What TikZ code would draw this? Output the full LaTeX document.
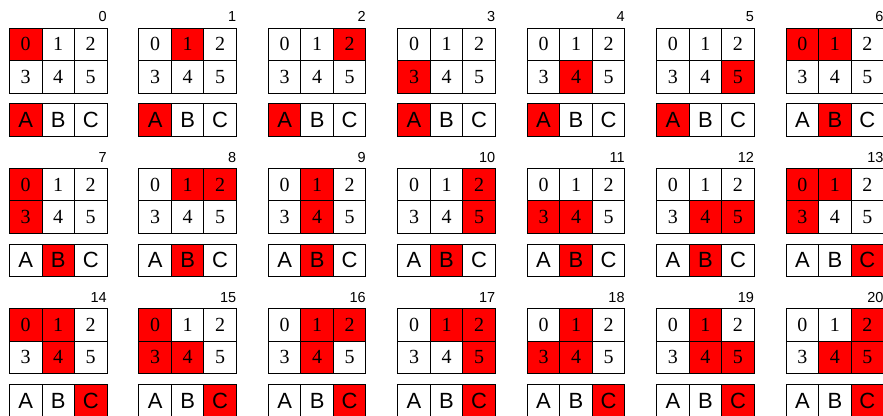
\documentclass[tikz,border=0pt]{standalone}
\usepackage{fontspec}
\setmainfont{Liberation Serif}
\setsansfont{Liberation Sans}
\usepackage{tikz}
\definecolor{hl}{RGB}{255,0,0}

\begin{document}
\begin{tikzpicture}[
        x=1pt, y=1pt,
        cell/.style={rectangle, draw=black, line width=0.9pt, inner sep=0pt, minimum width=32.5pt, minimum height=32.4pt, anchor=north west},
        digit/.style={cell, font=\fontsize{20}{20}\selectfont},
        letter/.style={cell, font=\sffamily\fontsize{22}{22}\selectfont},
        idx/.style={anchor=base east, inner sep=0pt, font=\sffamily\fontsize{14.5}{14.5}\selectfont}
    ]
        \useasboundingbox (0,0) rectangle (883,-415);

        % PANELS: number / marked cells of the 2x3 grid / marked letter
        \foreach \n/\mask/\sel in {
            0/{1,0,0,0,0,0}/0, 1/{0,1,0,0,0,0}/0, 2/{0,0,1,0,0,0}/0, 3/{0,0,0,1,0,0}/0,
            4/{0,0,0,0,1,0}/0, 5/{0,0,0,0,0,1}/0, 6/{1,1,0,0,0,0}/1, 7/{1,0,0,1,0,0}/1,
            8/{0,1,1,0,0,0}/1, 9/{0,1,0,0,1,0}/1, 10/{0,0,1,0,0,1}/1, 11/{0,0,0,1,1,0}/1,
            12/{0,0,0,0,1,1}/1, 13/{1,1,0,1,0,0}/2, 14/{1,1,0,0,1,0}/2, 15/{1,0,0,1,1,0}/2,
            16/{0,1,1,0,1,0}/2, 17/{0,1,1,0,0,1}/2, 18/{0,1,0,1,1,0}/2, 19/{0,1,0,0,1,1}/2,
            20/{0,0,1,0,1,1}/2}{
            \pgfmathtruncatemacro\col{mod(\n,7)}
            \pgfmathtruncatemacro\row{div(\n,7)}
            \pgfmathsetmacro\xo{9+129.45*\col}
            \pgfmathsetmacro\yo{-27.7-140.3*\row}

            % grid 0..5
            \foreach \j in {0,...,5}{
                \pgfmathtruncatemacro\on{{\mask}[\j]}
                \ifnum\on=1 \def\cf{hl}\else\def\cf{white}\fi
                \pgfmathsetmacro\cx{\xo+32.5*mod(\j,3)}
                \pgfmathsetmacro\cy{\yo-32.4*div(\j,3)}
                \node[digit, fill=\cf] (p\n-\j) at (\cx,\cy) {\j};
            }

            % letters A B C
            \foreach \L [count=\k from 0] in {A,B,C}{
                \ifnum\k=\sel \def\cf{hl}\else\def\cf{white}\fi
                \pgfmathsetmacro\cx{\xo+32.5*\k}
                \node[letter, fill=\cf] (p\n-\L) at (\cx,\yo-75.6) {\L};
            }

            % panel number
            \node[idx] (t\n) at (\xo+98,\yo+6) {\n};
        }
    \end{tikzpicture}
\end{document}
